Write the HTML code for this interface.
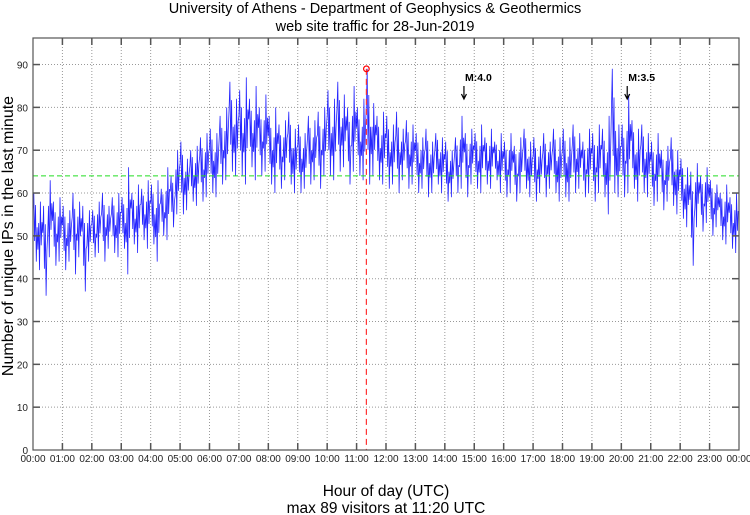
<!DOCTYPE html>
<html><head><meta charset="utf-8">
<style>
body{margin:0;background:#fff;}
svg{display:block;font-family:"Liberation Sans",sans-serif;}
</style></head>
<body>
<svg id="chart" width="750" height="515" viewBox="0 0 750 515" xmlns="http://www.w3.org/2000/svg">
<rect width="750" height="515" fill="#fff"/>
<text x="375" y="13" font-size="14.5" text-anchor="middle" fill="#000">University of Athens - Department of Geophysics &amp; Geothermics</text>
<text x="375" y="31" font-size="14.5" text-anchor="middle" fill="#000">web site traffic for 28-Jun-2019</text>
<text x="386" y="496" font-size="15.5" text-anchor="middle" fill="#000">Hour of day (UTC)</text>
<text x="386" y="513" font-size="15.5" text-anchor="middle" fill="#000">max 89 visitors at 11:20 UTC</text>
<text transform="translate(13,236) rotate(-90)" font-size="16" text-anchor="middle" fill="#000">Number of unique IPs in the last minute</text>
<g id="grid"></g>
<g id="series"></g>
<g id="overlay"></g>
<g id="axes"></g>
</svg>
<script>
const hourLabels=["00:00","01:00","02:00","03:00","04:00","05:00","06:00","07:00","08:00","09:00","10:00","11:00","12:00","13:00","14:00","15:00","16:00","17:00","18:00","19:00","20:00","21:00","22:00","23:00","00:00"];
const yTicks=[0,10,20,30,40,50,60,70,80,90];
const binLo=[44,42,36,45,43,44, 42,44,41,45,37,44, 45,46,44,47,46,45, 47,41,48,46,49,47, 48,44,50,49,52,55, 55,56,58,57,58,59, 60,59,62,63,65,64, 64,62,66,63,64,65, 62,60,61,63,62,60, 60,61,62,63,61,64, 64,63,65,66,62,65, 64,63,62,64,63,62, 61,62,60,63,61,62, 60,61,59,60,62,60, 58,59,60,61,59,62, 61,60,62,61,63,60, 59,60,58,60,61,59, 58,60,59,61,60,58, 59,58,60,61,59,60, 58,60,59,55,60,59, 59,60,61,58,60,59, 57,58,56,58,57,55, 54,52,43,52,51,53, 50,52,49,48,47,46];
const binHi=[60,58,57,63,58,59, 57,56,60,58,57,56, 56,58,60,57,59,60, 59,66,60,62,61,63, 62,63,61,66,64,70, 72,68,70,71,73,74, 75,74,78,80,86,82, 84,87,82,85,80,83, 78,80,76,77,79,75, 76,74,78,77,79,80, 84,82,86,83,80,85, 80,82,89,81,78,79, 78,76,79,75,77,76, 74,73,75,72,74,73, 72,70,73,78,74,75, 74,76,73,75,72,74, 72,74,71,73,75,72, 73,71,74,72,75,73, 75,73,76,74,72,75, 74,76,75,78,89,76, 76,83,77,75,76,74, 72,74,70,71,73,70, 68,66,65,67,64,66, 63,62,60,62,59,60];
const meanLevel=64;
const maxValue=89, maxHour=11+20/60;
const quakes=[{label:"M:4.0",hour:14.65},{label:"M:3.5",hour:20.2}];

const L=33,R=739,T=38,B=450,YMAX=96.2;
const xs=h=>L+(R-L)*h/24;
const ys=v=>B-(B-T)*v/YMAX;
const NS="http://www.w3.org/2000/svg";
function mk(tag,attrs,parent){const e=document.createElementNS(NS,tag);for(const k in attrs)e.setAttribute(k,attrs[k]);parent.appendChild(e);return e;}
const grid=document.getElementById('grid'),axes=document.getElementById('axes'),series=document.getElementById('series'),ov=document.getElementById('overlay');
hourLabels.forEach((lab,i)=>{
  const x=xs(i);
  if(i>0&&i<24){const g=mk('line',{x1:x,x2:x,y1:T,y2:B,stroke:'#999','stroke-dasharray':'1,2','stroke-width':1},grid);
  
  
  mk('line',{x1:x,x2:x,y1:B,y2:B-7,stroke:'#555','stroke-width':1.5},axes);
  mk('line',{x1:x,x2:x,y1:T,y2:T+7,stroke:'#555','stroke-width':1.5},axes);}
  const t=mk('text',{x:x,y:B+12,'font-size':10,'text-anchor':'middle',fill:'#222'},axes);
  t.textContent=lab;
  
  
});
yTicks.forEach(v=>{
  const y=ys(v);
  if(v>0){const g=mk('line',{x1:L,x2:R,y1:y,y2:y,stroke:'#999','stroke-dasharray':'1,2','stroke-width':1},grid);
  
  
  mk('line',{x1:L,x2:L+7,y1:y,y2:y,stroke:'#555','stroke-width':1.5},axes);
  mk('line',{x1:R,x2:R-7,y1:y,y2:y,stroke:'#555','stroke-width':1.5},axes);}
  const t=mk('text',{x:L-5,y:y+4,'font-size':10,'text-anchor':'end',fill:'#222'},axes);
  t.textContent=v;
  
  
});
const frame=mk('rect',{x:L,y:T,width:R-L,height:B-T,fill:'none',stroke:'#555','stroke-width':1.2},axes);


let pts=[];const n=binLo.length;
for(let i=0;i<n;i++){
  const h0=24*i/n,dh=24/n;
  const lo=binLo[i],hi=binHi[i],q1=lo+(hi-lo)*0.3,q3=lo+(hi-lo)*0.7,m=(lo+hi)/2;
  const seq=(i%2===0)?[q3,hi,q1,q3+2,lo,m]:[q1,m+3,lo,hi,q1+1,q3];
  seq.forEach((v,k)=>pts.push(xs(h0+dh*k/seq.length).toFixed(1)+','+ys(v).toFixed(1)));
}
const pl=mk('polyline',{points:pts.join(' '),fill:'none',stroke:'#0000ff','stroke-width':0.8,'stroke-opacity':0.85},series);


const ml=mk('line',{x1:L,x2:R,y1:ys(meanLevel),y2:ys(meanLevel),stroke:'#22dd22','stroke-dasharray':'5,3','stroke-width':1},ov);


const vl=mk('line',{x1:xs(maxHour),x2:xs(maxHour),y1:ys(maxValue),y2:B,stroke:'#ff3333','stroke-dasharray':'6,4','stroke-width':1.2},ov);


const mc=mk('circle',{cx:xs(maxHour),cy:ys(maxValue),r:2.8,fill:'none',stroke:'#ff0000','stroke-width':1.2},ov);


quakes.forEach(q=>{
  const x=xs(q.hour);
  const t=mk('text',{x:x+1,y:81,'font-size':10.5,'font-weight':'bold',fill:'#000'},ov);
  t.textContent=q.label;
  
  
  const a=mk('path',{d:`M${x},86 L${x},99 M${x-2.5},94 L${x},99 L${x+2.5},94`,fill:'none',stroke:'#000','stroke-width':1.2},ov);
  
  
});
</script>
</body></html>
